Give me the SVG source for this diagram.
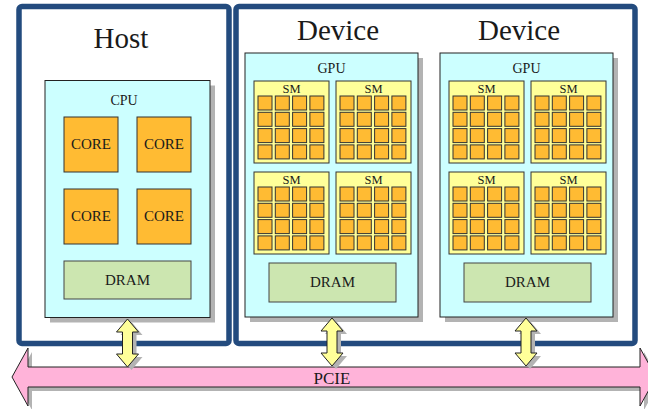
<svg xmlns="http://www.w3.org/2000/svg" width="648" height="409" viewBox="0 0 648 409">
<style>
.t{fill:#1a1a1a;text-anchor:middle;font-family:'Liberation Serif',serif}
.frame{fill:#fff;stroke:#234b7e;stroke-width:5.5}
.shadow{fill:#b3b3b3;stroke:none}
.chip{fill:#ccffff;stroke:#222;stroke-width:1}
.core{fill:#ffbb33;stroke:#333;stroke-width:1}
.sm{fill:#ffff99;stroke:#333;stroke-width:1}
.dram{fill:#cce6b0;stroke:#444;stroke-width:1}
.link{fill:#ffff99;stroke:#222;stroke-width:1}
.bus{fill:#ffb3d9;stroke:#222;stroke-width:1}
</style>
<defs>
<g id="sm">
<rect class="sm" x="0" y="0" width="75" height="82"/>
<text class="t" x="37.5" y="12" font-family="Liberation Serif" font-size="12.5">SM</text>
<g id="smrow">
<rect class="core" x="4" y="15" width="14" height="14"/>
<rect class="core" x="21.3" y="15" width="14" height="14"/>
<rect class="core" x="38.6" y="15" width="14" height="14"/>
<rect class="core" x="55.9" y="15" width="14" height="14"/>
</g>
<use href="#smrow" y="16.3"/>
<use href="#smrow" y="32.6"/>
<use href="#smrow" y="48.9"/>
</g>
<g id="gpu">
<rect class="shadow" x="5" y="5" width="173" height="264"/>
<rect class="chip" x="0" y="0" width="173" height="264"/>
<text class="t" x="86.5" y="20" font-family="Liberation Serif" font-size="14">GPU</text>
<use href="#sm" x="9" y="28"/>
<use href="#sm" x="91" y="28"/>
<use href="#sm" x="9" y="119"/>
<use href="#sm" x="91" y="119"/>
<rect class="dram" x="24" y="210" width="127" height="39"/>
<text class="t" x="87.5" y="234" font-family="Liberation Serif" font-size="15">DRAM</text>
</g>
<path id="varrow" d="M0,0 L11,13 L5,13 L5,35 L11,35 L0,48 L-11,35 L-5,35 L-5,13 L-11,13 Z"/>
</defs>

<g id="host">
<rect class="frame" x="19" y="6.5" width="210" height="337" rx="3"/>
<text class="t" x="121" y="48" font-family="Liberation Serif" font-size="29">Host</text>
</g>
<g id="device">
<rect class="frame" x="236" y="6.5" width="399" height="337" rx="3"/>
<text class="t" x="338" y="40" font-family="Liberation Serif" font-size="29">Device</text>
<text class="t" x="519" y="40" font-family="Liberation Serif" font-size="29">Device</text>
</g>

<g id="cpu">
<rect class="shadow" x="50" y="85.5" width="165" height="237"/>
<rect class="chip" x="45" y="80.5" width="165" height="237"/>
<text class="t" x="124" y="105" font-family="Liberation Serif" font-size="14">CPU</text>
<rect class="core" x="64" y="117" width="54" height="55"/>
<text class="t" x="91" y="149" font-family="Liberation Serif" font-size="15">CORE</text>
<rect class="core" x="137" y="117" width="54" height="55"/>
<text class="t" x="164" y="149" font-family="Liberation Serif" font-size="15">CORE</text>
<rect class="core" x="64" y="189" width="54" height="55"/>
<text class="t" x="91" y="221" font-family="Liberation Serif" font-size="15">CORE</text>
<rect class="core" x="137" y="189" width="54" height="55"/>
<text class="t" x="164" y="221" font-family="Liberation Serif" font-size="15">CORE</text>
<rect class="dram" x="64" y="261" width="127" height="38"/>
<text class="t" x="127.5" y="285" font-family="Liberation Serif" font-size="15">DRAM</text>
</g>

<g id="gpu1"><use href="#gpu" x="245" y="53"/></g>
<g id="gpu2"><use href="#gpu" x="440" y="53"/></g>

<g id="connectors">
<path class="shadow" d="M16,381 L32,352 L32,371 L644,371 L644,352 L660,381 L644,410 L644,391 L32,391 L32,410 Z"/>
<path class="bus" d="M12,377 L28,348 L28,367 L640,367 L640,348 L656,377 L640,406 L640,387 L28,387 L28,406 Z"/>
<use class="shadow" href="#varrow" x="131.5" y="322"/>
<use class="link" href="#varrow" x="127.5" y="319"/>
<use class="shadow" href="#varrow" x="336" y="321"/>
<use class="link" href="#varrow" x="332" y="318"/>
<use class="shadow" href="#varrow" x="530" y="321"/>
<use class="link" href="#varrow" x="526" y="318"/>
</g>
<g id="pcie">
<text class="t" x="332" y="384" font-family="Liberation Serif" font-size="17">PCIE</text>
</g>
</svg>
